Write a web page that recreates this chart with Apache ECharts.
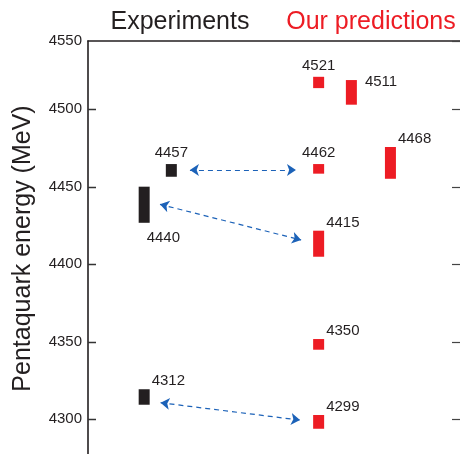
<!DOCTYPE html>
<html>
<head>
<meta charset="utf-8">
<script src="https://cdn.jsdelivr.net/npm/echarts@6/dist/echarts.min.js"></script>
<style>html,body{margin:0;padding:0;background:#fff}#c{width:460px;height:454px}</style>
</head>
<body>
<div id="c"></div>
<script>
// ---- data ----
const expLabels = ['4312', '4440', '4457'];
const expLow    = [4309.4, 4426.8, 4456.5];
const expHigh   = [4319.4, 4450.1, 4464.7];
const expCol    = [15.1, 15.1, 22.4];

const predLabels = ['4299', '4350', '4415', '4462', '4468', '4511', '4521'];
const predLow    = [4293.9, 4344.9, 4404.9, 4458.5, 4455.2, 4503.0, 4513.7];
const predHigh   = [4302.8, 4351.8, 4421.7, 4464.7, 4475.7, 4518.9, 4521.0];
const predCol    = [62, 62, 62, 62, 81.3, 70.8, 62];

// arrows: [column, energy] at each end
const arrowFrom = [[27.4, 4460.8], [19.35, 4438.7], [19.5, 4310.7]];
const arrowTo   = [[55.9, 4460.8], [57.3, 4415.7], [57.0, 4299.5]];

const tickValues = [4300, 4350, 4400, 4450, 4500];
const tickLabelTop = '4550';     // label printed at the top frame line
const yMin = 4250, yMax = 4544.1, yStep = 50;

// ---- layout (label placement per mark) ----
const expPlace  = ['aboveRight', 'below', 'above'];
const predPlace = ['aboveRight', 'aboveRight', 'aboveRight', 'above', 'aboveRight', 'right', 'above'];
const leftTickLen = 2.15;   // in x-axis units (about 8 px)

const FONT = "'Liberation Sans', Arial, Helvetica, sans-serif";
const TXT = '#231f20';
const RED = '#ed1c24';
const BLACK = '#231f20';
const BLUE = '#1c62b8';

function makeData(cols, lo, hi, labels, place) {
  return cols.map((c, i) => [c, lo[i], hi[i], labels[i], place[i]]);
}

function renderBar(color) {
  return function (params, api) {
    const x = api.value(0);
    const pTop = api.coord([x, api.value(2)]);
    const pBot = api.coord([x, api.value(1)]);
    const w = 11;
    const left = pTop[0] - w / 2, right = pTop[0] + w / 2;
    const top = pTop[1], bot = pBot[1];
    const place = api.value(4);
    let tx, ty, align;
    if (place === 'above') { tx = pTop[0]; ty = top - 11; align = 'center'; }
    else if (place === 'aboveRight') { tx = right + 2; ty = top - 8; align = 'left'; }
    else if (place === 'right') { tx = right + 8; ty = top + 2; align = 'left'; }
    else { tx = left + 8; ty = bot + 15.5; align = 'left'; }
    return {
      type: 'group',
      children: [
        { type: 'rect', shape: { x: left, y: top, width: w, height: bot - top }, style: { fill: color } },
        { type: 'text', x: tx, y: ty, style: { text: api.value(3), fill: TXT, font: '15px ' + FONT, align: align, verticalAlign: 'middle' } }
      ]
    };
  };
}

const tickStyle = { color: '#444', width: 1.2 };
const chart = echarts.init(document.getElementById('c'), null, { renderer: 'canvas' });
chart.setOption({
  animation: false,
  backgroundColor: '#fff',
  grid: { left: 88, right: 0, top: 41, bottom: -42.8, containLabel: false, outerBoundsMode: 'none' },
  xAxis: {
    type: 'value', min: 0, max: 100, position: 'top',
    axisLine: { show: true, onZero: false, lineStyle: { color: BLACK, width: 1.6 } },
    axisTick: { show: false }, axisLabel: { show: false }, splitLine: { show: false }
  },
  yAxis: [
    {
      type: 'value', min: yMin, max: yMax, interval: yStep, position: 'left',
      axisLine: { show: true, onZero: false, lineStyle: { color: BLACK, width: 1.6 } },
      axisTick: { show: false },
      axisLabel: {
        show: true, margin: 6, showMinLabel: false, showMaxLabel: true,
        formatter: v => (v > 4540 ? tickLabelTop : String(v)),
        color: TXT, fontSize: 15, fontFamily: FONT
      },
      splitLine: { show: false }
    },
    {
      type: 'value', min: yMin, max: yMax, interval: yStep, position: 'right',
      axisLine: { show: true, onZero: false, lineStyle: { color: 'rgba(0,0,0,0)', width: 0 } },
      axisTick: { show: true, inside: false, length: -8, lineStyle: tickStyle },
      axisLabel: { show: false },
      splitLine: { show: false }
    }
  ],
  graphic: [
    { type: 'text', x: 180, y: 22, style: { text: 'Experiments', fill: TXT, font: '25px ' + FONT, align: 'center', verticalAlign: 'middle' } },
    { type: 'text', x: 371, y: 22, style: { text: 'Our predictions', fill: RED, font: '25px ' + FONT, align: 'center', verticalAlign: 'middle' } },
    { type: 'text', x: 23, y: 248.5, rotation: Math.PI / 2, style: { text: 'Pentaquark energy (MeV)', fill: TXT, font: '25px ' + FONT, align: 'center', verticalAlign: 'middle' } }
  ],
  series: [
    {
      type: 'lines', coordinateSystem: 'cartesian2d', z: 5, silent: true,
      symbol: ['none', 'none'],
      lineStyle: { color: '#333', width: 1.3, type: 'solid', opacity: 1 },
      data: tickValues.map(v => ({ coords: [[0, v], [leftTickLen, v]] }))
    },
    {
      type: 'lines', coordinateSystem: 'cartesian2d', z: 3,
      symbol: ['arrow', 'arrow'], symbolSize: 9,
      lineStyle: { color: BLUE, width: 1.2, type: [5, 4], opacity: 1 },
      data: arrowFrom.map((f, i) => ({ coords: [f, arrowTo[i]] }))
    },
    {
      type: 'custom', renderItem: renderBar(BLACK), z: 4,
      data: makeData(expCol, expLow, expHigh, expLabels, expPlace)
    },
    {
      type: 'custom', renderItem: renderBar(RED), z: 4,
      data: makeData(predCol, predLow, predHigh, predLabels, predPlace)
    }
  ]
});
</script>
</body>
</html>
